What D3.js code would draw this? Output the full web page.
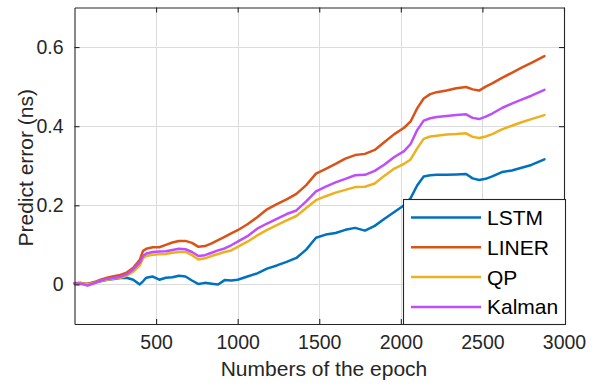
<!DOCTYPE html>
<html>
<head>
<meta charset="utf-8">
<script src="https://cdn.jsdelivr.net/npm/d3@7"></script>
<style>
  html, body { margin: 0; padding: 0; background: #fff; }
  svg { display: block; font-family: "Liberation Sans", Arial, Helvetica, sans-serif; }
</style>
</head>
<body>
<svg id="chart" width="599" height="386"></svg>
<script>
// Epoch sample positions shared by all series
const epochs = [0, 40, 80, 120, 160, 200, 240, 280, 320, 360, 400, 420, 440, 480, 520, 560, 600, 640, 680, 720,
  760, 800, 840, 880, 920, 960, 1000, 1060, 1120, 1180, 1240, 1300, 1360, 1420, 1480, 1540, 1600, 1660, 1720, 1780,
  1840, 1900, 1960, 2020, 2060, 2100, 2140, 2180, 2220, 2280, 2340, 2400, 2440, 2480, 2520, 2560, 2620, 2680, 2740, 2800, 2880];

// Prediction error (ns) per method
const lstm = [0.002, 0.001, 0.002, 0.004, 0.008, 0.012, 0.014, 0.016, 0.017, 0.012, 0.000, 0.008, 0.017, 0.020, 0.012, 0.017, 0.018, 0.022, 0.020, 0.010,
  0.001, 0.004, 0.002, 0.000, 0.011, 0.010, 0.012, 0.020, 0.028, 0.040, 0.048, 0.057, 0.067, 0.088, 0.118, 0.126, 0.130, 0.138, 0.143, 0.136,
  0.148, 0.166, 0.183, 0.200, 0.218, 0.250, 0.273, 0.276, 0.277, 0.277, 0.278, 0.279, 0.268, 0.264, 0.267, 0.273, 0.284, 0.288, 0.295, 0.302, 0.316];
const liner = [0.003, 0.004, 0.001, 0.006, 0.012, 0.017, 0.021, 0.024, 0.030, 0.042, 0.062, 0.085, 0.090, 0.094, 0.094, 0.100, 0.106, 0.110, 0.110, 0.105,
  0.095, 0.097, 0.104, 0.112, 0.120, 0.129, 0.137, 0.152, 0.170, 0.190, 0.203, 0.215, 0.229, 0.251, 0.280, 0.292, 0.305, 0.318, 0.327, 0.330,
  0.340, 0.360, 0.380, 0.396, 0.412, 0.445, 0.470, 0.481, 0.486, 0.490, 0.496, 0.499, 0.493, 0.490, 0.500, 0.508, 0.522, 0.535, 0.548, 0.560, 0.577];
const qp = [0.002, 0.003, 0.000, 0.004, 0.009, 0.012, 0.015, 0.017, 0.022, 0.032, 0.048, 0.066, 0.072, 0.075, 0.076, 0.077, 0.080, 0.082, 0.082, 0.074,
  0.063, 0.066, 0.072, 0.077, 0.082, 0.086, 0.095, 0.108, 0.124, 0.138, 0.150, 0.162, 0.173, 0.193, 0.213, 0.223, 0.232, 0.239, 0.246, 0.247,
  0.255, 0.275, 0.293, 0.305, 0.316, 0.344, 0.368, 0.374, 0.376, 0.379, 0.380, 0.382, 0.373, 0.370, 0.374, 0.380, 0.392, 0.401, 0.410, 0.418, 0.428];
const kalman = [0.003, 0.002, -0.003, 0.003, 0.010, 0.014, 0.017, 0.019, 0.026, 0.038, 0.055, 0.072, 0.078, 0.082, 0.083, 0.084, 0.087, 0.090, 0.089, 0.082,
  0.072, 0.074, 0.080, 0.086, 0.091, 0.099, 0.108, 0.122, 0.141, 0.154, 0.166, 0.178, 0.187, 0.210, 0.235, 0.247, 0.258, 0.267, 0.276, 0.277,
  0.287, 0.303, 0.322, 0.337, 0.355, 0.390, 0.414, 0.420, 0.423, 0.426, 0.428, 0.430, 0.421, 0.418, 0.424, 0.432, 0.446, 0.457, 0.467, 0.477, 0.492];

const seriesNames = ["LSTM", "LINER", "QP", "Kalman"];
const seriesColors = ["#0072BD", "#D95319", "#EDB120", "#BE4EFA"];
const seriesValues = [lstm, liner, qp, kalman];

const xTicks = [500, 1000, 1500, 2000, 2500, 3000];
const yTicks = [0, 0.2, 0.4, 0.6];
const xLabel = "Numbers of the epoch";
const yLabel = "Predict error (ns)";

const svg = d3.select("#chart");
const axisColor = "#262626";
const plot = { left: 74.5, right: 564, top: 7.5, bottom: 324 };

const x = d3.scaleLinear().domain([0, 3000]).range([plot.left, plot.right]);
const y = d3.scaleLinear().domain([-0.1, 0.7]).range([plot.bottom, plot.top]);

// Grid
const grid = svg.append("g").attr("stroke", "#dcdcdc").attr("stroke-width", 1);
grid.selectAll("line.gx").data(xTicks).join("line")
  .attr("x1", d => Math.round(x(d)) + 0.5).attr("x2", d => Math.round(x(d)) + 0.5)
  .attr("y1", plot.top).attr("y2", plot.bottom);
grid.selectAll("line.gy").data(yTicks).join("line")
  .attr("y1", d => Math.round(y(d)) + 0.5).attr("y2", d => Math.round(y(d)) + 0.5)
  .attr("x1", plot.left).attr("x2", plot.right);

// Data lines
const line = d3.line().x((d, i) => x(epochs[i])).y(d => y(d)).curve(d3.curveLinear);
svg.append("g").selectAll("path").data(seriesValues).join("path")
  .attr("d", d => line(d))
  .attr("fill", "none")
  .attr("stroke", (d, i) => seriesColors[i])
  .attr("stroke-width", 2.5)
  .attr("stroke-linejoin", "round")
  .attr("stroke-linecap", "round");

// Axes with inward ticks (box on all four sides)
const tickLen = 5;
const fmtX = d3.format("d");
const fmtY = d => d === 0 ? "0" : d3.format(".1f")(d);

const bottomAxis = d3.axisBottom(x).tickValues(xTicks).tickSizeInner(-tickLen).tickSizeOuter(0).tickPadding(11).tickFormat(fmtX);
const topAxis = d3.axisTop(x).tickValues(xTicks).tickSizeInner(-tickLen).tickSizeOuter(0).tickFormat("");
const leftAxis = d3.axisLeft(y).tickValues(yTicks).tickSizeInner(-tickLen).tickSizeOuter(0).tickPadding(11).tickFormat(fmtY);
const rightAxis = d3.axisRight(y).tickValues(yTicks).tickSizeInner(-tickLen).tickSizeOuter(0).tickFormat("");

function styleAxis(g) {
  g.select(".domain").attr("stroke", axisColor).attr("stroke-width", 1.1);
  g.selectAll(".tick line").attr("stroke", axisColor).attr("stroke-width", 1.1);
  g.selectAll(".tick text").attr("fill", axisColor).attr("font-size", 19.5);
}

svg.append("g").attr("transform", `translate(0,${plot.bottom})`).call(bottomAxis).call(styleAxis)
  .selectAll(".tick text").attr("dy", "0.71em");
svg.append("g").attr("transform", `translate(0,${plot.top})`).call(topAxis).call(styleAxis);
svg.append("g").attr("transform", `translate(${plot.left},0)`).call(leftAxis).call(styleAxis);
svg.append("g").attr("transform", `translate(${plot.right},0)`).call(rightAxis).call(styleAxis);

// Axis titles
svg.append("text")
  .attr("x", 324).attr("y", 376)
  .attr("text-anchor", "middle").attr("fill", axisColor).attr("font-size", 21)
  .text(xLabel);
svg.append("text")
  .attr("transform", `translate(32.5,${(plot.top + plot.bottom) / 2 + 2}) rotate(-90)`)
  .attr("text-anchor", "middle").attr("fill", axisColor).attr("font-size", 21)
  .text(yLabel);

// Legend
const legend = svg.append("g").attr("transform", "translate(403.5,199.5)");
legend.append("rect")
  .attr("width", 162).attr("height", 125)
  .attr("fill", "#fff").attr("stroke", axisColor).attr("stroke-width", 1.1);
const rows = legend.selectAll("g.row").data(seriesNames).join("g")
  .attr("transform", (d, i) => `translate(0,${18 + i * 29.8})`);
rows.append("line")
  .attr("x1", 7.5).attr("x2", 77.5).attr("y1", 0).attr("y2", 0)
  .attr("stroke", (d, i) => seriesColors[i]).attr("stroke-width", 2.5);
rows.append("text")
  .attr("x", 83.5).attr("y", 0).attr("dy", "0.36em")
  .attr("fill", "#000").attr("font-size", 21)
  .text(d => d);
</script>
</body>
</html>
